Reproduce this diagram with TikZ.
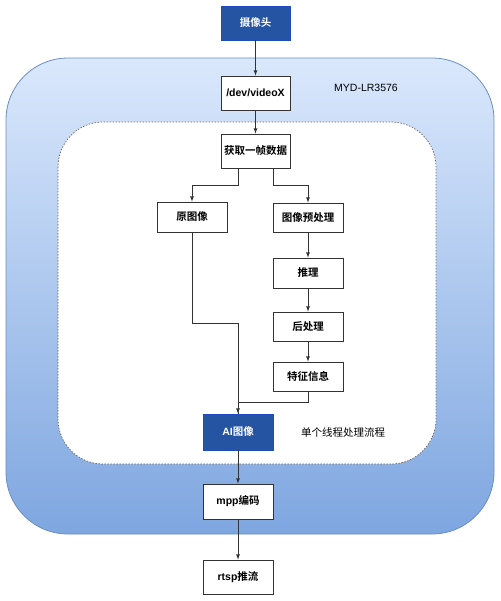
\documentclass[tikz,border=0pt]{standalone}
\usepackage{fontspec}
\setmainfont{Liberation Sans}
\newfontfamily\cjk{Noto Sans CJK SC}[BoldFont={Noto Sans CJK SC Bold}]
\usetikzlibrary{arrows}

\definecolor{lineclr}{HTML}{333333}
\definecolor{camblue}{HTML}{2554A3}
\definecolor{camedge}{HTML}{1F4BC2}
\definecolor{boardtop}{HTML}{DAE8FC}
\definecolor{boardbot}{HTML}{7EA6E0}
\definecolor{boardedge}{HTML}{6C8EBF}

\tikzset{
  box/.style={draw=lineclr, fill=white, line width=0.8pt, inner sep=0pt,
    minimum width=70pt, minimum height=30pt,
    font=\bfseries\fontsize{10.5}{12}\selectfont},
  darkbox/.style={box, draw=camedge, fill=camblue, text=white},
  flow/.style={draw=lineclr, line width=0.8pt},
  note/.style={font=\fontsize{10.5}{12}\selectfont}
}

\begin{document}
\begin{tikzpicture}[x=1pt,y=-1pt]
   \useasboundingbox (0,0) rectangle (500,601);

   % board and thread areas
   \draw[draw=boardedge, top color=boardtop, bottom color=boardbot,
         rounded corners=62pt, line width=0.8pt] (6,58) rectangle (494,534);
   \draw[draw=gray!80!black, fill=white, dash pattern=on 1.5pt off 1.5pt,
         rounded corners=45pt, line width=0.7pt] (58,122) rectangle (436,464);
   \node[note] (board) at (366,88) {MYD-LR3576};
   \node[note] (thread) at (343,433) {\cjk 单个线程处理流程};

   % boxes
   \node[darkbox, minimum height=34pt, minimum width=69pt] (cam) at (255.5,23) {\cjk 摄像头};
   \node[box, minimum height=34pt, minimum width=69pt] (dev) at (255.5,93) {/dev/videoX};
   \node[box, minimum height=34pt, minimum width=69pt] (grab) at (255.5,151) {\cjk 获取一帧数据};
   \node[box] (raw) at (192,217) {\cjk 原图像};
   \node[box, minimum height=29pt] (pre) at (308,217.5) {\cjk 图像预处理};
   \node[box] (infer) at (308,273) {\cjk 推理};
   \node[box, minimum height=29pt] (post) at (308,326.5) {\cjk 后处理};
   \node[box, minimum height=29pt] (feat) at (308,376.5) {\cjk 特征信息};
   \node[darkbox, minimum height=36pt] (ai) at (238,432) {AI{\cjk 图像}};
   \node[box, minimum height=35pt] (mpp) at (238,501.5) {mpp{\cjk 编码}};
   \node[box, minimum height=34pt] (rtsp) at (238,577) {rtsp{\cjk 推流}};

   % connectors
   \draw[flow, -latex] (cam) -- (dev);
   \draw[flow, -latex] (dev) -- (grab);
   \draw[flow, -latex] ([xshift=-17.5pt]grab.south) -- ++(0,17) -| (raw.north);
   \draw[flow, -latex] ([xshift=17.5pt]grab.south) -- ++(0,17) -| (pre.north);
   \draw[flow, -latex] (pre) -- (infer);
   \draw[flow, -latex] (infer) -- (post);
   \draw[flow, -latex] (post) -- (feat);
   \draw[flow, -latex] (raw.south) -- ++(0,91) -| (ai.north);
   \draw[flow] (feat.south) -- ++(0,11) -| (ai.north);
   \draw[flow, -latex] (ai) -- (mpp);
   \draw[flow, -latex] (mpp) -- (rtsp);
\end{tikzpicture}
\end{document}
